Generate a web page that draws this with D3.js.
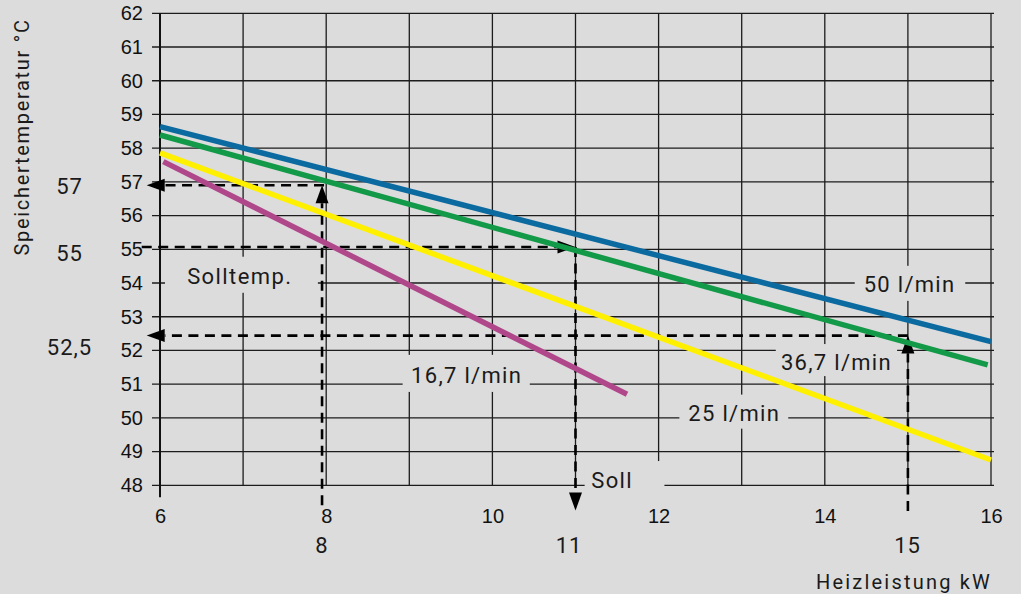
<!DOCTYPE html>
<html><head><meta charset="utf-8">
<script src="https://cdn.jsdelivr.net/npm/d3@7"></script>
<style>
html,body{margin:0;padding:0;background:#dcdcdc;}
svg{display:block;}
</style></head><body>
<svg id="c" width="1021" height="594"></svg>
<script>
// ---------- data ----------
const xTicks = [6, 8, 10, 12, 14, 16];
const xGrid = [6, 7, 8, 9, 10, 11, 12, 13, 14, 15, 16];
const yTicks = [48, 49, 50, 51, 52, 53, 54, 55, 56, 57, 58, 59, 60, 61, 62];
const seriesNames = ["50 l/min", "36,7 l/min", "25 l/min", "16,7 l/min"];
const seriesX = [[6, 16], [6, 15.96], [6, 16], [6.04, 11.62]];
const seriesY = [[58.64, 52.26], [58.39, 51.57], [57.86, 48.75], [57.6, 50.7]];
const seriesColors = ["#0b6aa0", "#129a48", "#fff000", "#b0478a"];
// reading examples: power (kW) and storage temperature (°C)
const markerPower = [7.95, 11, 15];
const markerTemp = [56.9, 55.07, 52.44];
const markerLabelsY = ["57", "55", "52,5"];
const markerLabelsX = ["8", "11", "15"];
const xTitle = "Heizleistung kW";
const yTitle = "Speichertemperatur °C";
const sollTempLabel = "Solltemp.";
const sollLabel = "Soll";

// ---------- layout ----------
const svg = d3.select("#c");
const x = d3.scaleLinear().domain([6, 16]).range([160, 991]);
const y = d3.scaleLinear().domain([48, 62]).range([485.3, 13.3]);
const BG = "#dcdcdc";
const LBL_FONT = "Roboto, 'Noto Sans', sans-serif";
const TICK_FONT = "'Liberation Sans', Arial, sans-serif";

// grid
const g = svg.append("g");
g.selectAll("line.h").data(yTicks).join("line")
  .attr("x1", x(6) - 8).attr("x2", x(16) + 3)
  .attr("y1", d => y(d)).attr("y2", d => y(d))
  .attr("stroke", "#1c1c1c").attr("stroke-width", 1.3);
g.selectAll("line.v").data(xGrid.filter(d => d !== 6)).join("line")
  .attr("x1", d => x(d)).attr("x2", d => x(d))
  .attr("y1", y(62)).attr("y2", y(48))
  .attr("stroke", "#1c1c1c").attr("stroke-width", 1.3);

// label boxes (knock out grid behind labels) : [x0,x1,t0,t1]
const boxes = [
  [6.06, 7.90, 54.78, 53.71],
  [8.92, 10.45, 51.87, 50.77],
  [13.41, 14.87, 52.19, 51.24],
  [14.36, 15.69, 54.51, 53.47],
  [12.25, 13.56, 50.69, 49.68],
  [11.11, 12.07, 48.72, 47.80]
];
svg.append("g").selectAll("rect").data(boxes).join("rect")
  .attr("x", d => x(d[0])).attr("width", d => x(d[1]) - x(d[0]))
  .attr("y", d => y(d[2])).attr("height", d => y(d[3]) - y(d[2]))
  .attr("fill", BG);

// y axis line
svg.append("line").attr("x1", x(6)).attr("x2", x(6))
  .attr("y1", y(62)).attr("y2", y(48) + 12)
  .attr("stroke", "#111").attr("stroke-width", 2);

// tick labels via axes
const yAxis = d3.axisLeft(y).tickValues(yTicks).tickSize(0).tickPadding(17).tickFormat(d3.format("d"));
const ya = svg.append("g").attr("transform", `translate(${x(6)},0)`).call(yAxis);
ya.select(".domain").remove();
ya.selectAll("text").attr("font-family", TICK_FONT).attr("font-size", 20).attr("fill", "#111");

const xAxis = d3.axisBottom(x).tickValues(xTicks).tickSize(0).tickPadding(24).tickFormat(d3.format("d"));
const xa = svg.append("g").attr("transform", `translate(0,${y(48)})`).call(xAxis);
xa.select(".domain").remove();
xa.selectAll("text").attr("font-family", TICK_FONT).attr("font-size", 20).attr("fill", "#111");

// ---------- annotations (dashed reading lines) ----------
const ann = svg.append("g");
const DASH = "10,6.5", DW = 2.6, AL = 18, AW = 6.5;
function dashed(x1, y1, x2, y2) {
  ann.append("line").attr("x1", x1).attr("y1", y1).attr("x2", x2).attr("y2", y2)
    .attr("stroke", "#000").attr("stroke-width", DW).attr("stroke-dasharray", DASH);
}
function arrow(tx, ty, dir) {
  let pts;
  if (dir === "left") pts = [[tx, ty], [tx + AL, ty - AW], [tx + AL, ty + AW]];
  if (dir === "right") pts = [[tx, ty], [tx - AL, ty - AW], [tx - AL, ty + AW]];
  if (dir === "up") pts = [[tx, ty], [tx - AW, ty + AL], [tx + AW, ty + AL]];
  if (dir === "down") pts = [[tx, ty], [tx - AW, ty - AL], [tx + AW, ty - AL]];
  ann.append("path").attr("d", "M" + pts.join("L") + "Z").attr("fill", "#000");
}
const leftTip = x(5.84);
// reading 1: 8 kW -> 57 °C
{
  const px = x(markerPower[0]), py = y(markerTemp[0]);
  dashed(px, y(47.41), px, py + AL);
  arrow(px, py, "up");
  dashed(px + 2, py, leftTip + AL, py);
  arrow(leftTip, py, "left");
}
// reading 2: 55 °C -> 11 kW
{
  const px = x(markerPower[1]), py = y(markerTemp[1]);
  dashed(x(5.78), py, px - AL, py);
  arrow(px, py, "right");
  const tip = y(47.25);
  dashed(px, py, px, tip - AL);
  arrow(px, tip, "down");
}
// reading 3: 15 kW -> 52,5 °C
{
  const px = x(markerPower[2]), py = y(markerTemp[2]);
  dashed(px, y(47.24), px, py + AL);
  arrow(px, py, "up");
  dashed(px, py, leftTip + AL, py);
  arrow(leftTip, py, "left");
}

// ---------- series ----------
const line = d3.line().x(d => x(d[0])).y(d => y(d[1]));
svg.append("g").selectAll("path").data(seriesNames).join("path")
  .attr("d", (d, i) => line(seriesX[i].map((v, j) => [v, seriesY[i][j]])))
  .attr("fill", "none")
  .attr("stroke", (d, i) => seriesColors[i])
  .attr("stroke-width", 5.5);

// ---------- text labels ----------
function label(txt, cx, cy, size, anchor, ls) {
  return svg.append("text").text(txt)
    .attr("x", cx).attr("y", cy).attr("dy", "0.355em")
    .attr("text-anchor", anchor || "middle")
    .attr("font-family", LBL_FONT).attr("font-size", size)
    .attr("letter-spacing", ls == null ? 1 : ls)
    .attr("fill", "#1a1a1a");
}
// series labels: [kW, °C] centre of text
const seriesLabelPos = [[15.02, 53.97], [14.14, 51.66], [12.91, 50.14], [9.69, 51.27]];
seriesNames.forEach((n, i) => label(n, x(seriesLabelPos[i][0]), y(seriesLabelPos[i][1]), 22, "middle", 1.3));
label(sollTempLabel, x(6.96), y(54.21), 22, "middle", 1.4);
label(sollLabel, x(11.44), y(48.16), 22, "middle", 1.3);

// marker labels outside the axes
markerLabelsY.forEach((t, i) => label(t, 69.5, [185.7, 252.7, 346.7][i], 22, "middle", 1));
markerLabelsX.forEach((t, i) => label(t, [322, 569, 907.5][i], 545, 22, "middle", 1));

// axis titles
label(xTitle, 992, 581.7, 20, "end", 2.2);
svg.append("text").text(yTitle)
  .attr("transform", "translate(22,137) rotate(-90)")
  .attr("dy", "0.355em").attr("text-anchor", "middle")
  .attr("font-family", LBL_FONT).attr("font-size", 20).attr("letter-spacing", 1.7)
  .attr("fill", "#1a1a1a");
</script>
</body></html>
